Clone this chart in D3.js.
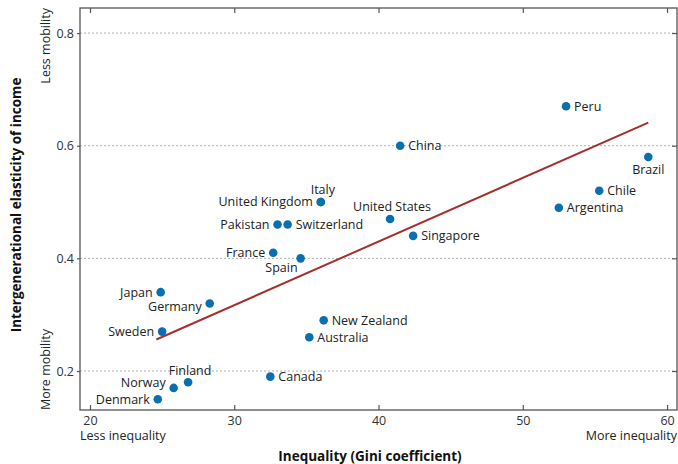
<!DOCTYPE html>
<html>
<head>
<meta charset="utf-8">
<script src="https://cdn.jsdelivr.net/npm/d3@7/dist/d3.min.js"></script>
<style>
  html, body { margin: 0; padding: 0; background: #fff; }
  svg text { font-family: "Open Sans", "Noto Sans", sans-serif; }
</style>
</head>
<body>
<svg id="chart" width="678" height="464"></svg>
<script>
// Countries with Gini coefficient and intergenerational earnings elasticity
const countries = ["Peru", "China", "Brazil", "Chile", "Argentina", "Italy", "United Kingdom",
  "United States", "Pakistan", "Switzerland", "Singapore", "France", "Spain", "Japan",
  "Germany", "Sweden", "New Zealand", "Australia", "Canada", "Finland", "Norway", "Denmark"];
const gini = [53.0, 41.5, 58.7, 55.3, 52.5, 36.0, 36.0,
  40.8, 33.0, 33.7, 42.4, 32.7, 34.6, 24.9,
  28.3, 25.0, 36.2, 35.2, 32.5, 26.8, 25.8, 24.7];
const elasticity = [0.67, 0.60, 0.58, 0.52, 0.49, 0.50, 0.50,
  0.47, 0.46, 0.46, 0.44, 0.41, 0.40, 0.34,
  0.32, 0.27, 0.29, 0.26, 0.19, 0.18, 0.17, 0.15];
// label placement per country
const labelSide = ["r", "r", "b", "r", "r", "a", "l",
  "a", "l", "r", "r", "l", "bl", "l",
  "gl", "l", "r", "r", "r", "a", "nl", "l"];

// Fitted trend line endpoints (Gini, elasticity)
const trendGini = [24.6, 58.7];
const trendElasticity = [0.256, 0.641];

const xTicks = [20, 30, 40, 50, 60];
const yTicks = [0.2, 0.4, 0.6, 0.8];

const svg = d3.select("#chart");
const L = 80, R = 677, T = 8, B = 410;

const x = d3.scaleLinear().domain([19.307, 60.69]).range([L, R]);
const y = d3.scaleLinear().domain([0.1308, 0.8445]).range([B, T]);

// dotted gridlines
svg.append("g").selectAll("line").data(yTicks).join("line")
  .attr("x1", L).attr("x2", R)
  .attr("y1", d => y(d)).attr("y2", d => y(d))
  .attr("stroke", "#b0b0b0").attr("stroke-width", 1)
  .attr("stroke-dasharray", "2,2");

const axisColor = "#555";
const styleAxis = g => {
  g.select(".domain").remove();
  g.selectAll(".tick line").attr("stroke", axisColor).attr("stroke-width", 1.2);
  g.selectAll(".tick text").attr("fill", "#333").attr("font-size", 12.5);
};

// bottom axis (inward ticks)
svg.append("g").attr("transform", `translate(0,${B})`)
  .call(d3.axisBottom(x).tickValues(xTicks).tickSize(-5).tickPadding(6).tickFormat(d3.format("d")))
  .call(styleAxis);
// top ticks
svg.append("g").attr("transform", `translate(0,${T})`)
  .call(d3.axisTop(x).tickValues(xTicks).tickSize(-5).tickFormat(""))
  .call(styleAxis);
// left axis (outward ticks)
svg.append("g").attr("transform", `translate(${L},0)`)
  .call(d3.axisLeft(y).tickValues(yTicks).tickSize(3).tickPadding(3).tickFormat(d3.format(".1f")))
  .call(styleAxis);
// right ticks
svg.append("g").attr("transform", `translate(${R},0)`)
  .call(d3.axisRight(y).tickValues(yTicks).tickSize(-5).tickFormat(""))
  .call(styleAxis);

// frame
svg.append("rect").attr("x", L).attr("y", T).attr("width", R - L).attr("height", B - T)
  .attr("fill", "none").attr("stroke", axisColor).attr("stroke-width", 1.3);

// trend line
svg.append("line")
  .attr("x1", x(trendGini[0])).attr("y1", y(trendElasticity[0]))
  .attr("x2", x(trendGini[1])).attr("y2", y(trendElasticity[1]))
  .attr("stroke", "#a3302c").attr("stroke-width", 2);

const data = countries.map((c, i) => ({ name: c, g: gini[i], e: elasticity[i], side: labelSide[i] }));

// points
svg.append("g").selectAll("circle").data(data).join("circle")
  .attr("cx", d => x(d.g)).attr("cy", d => y(d.e)).attr("r", 4.3)
  .attr("fill", "#0a6fae");

// labels
const place = {
  r:  { dx: 8,  dy: 0,   anchor: "start" },
  l:  { dx: -8, dy: 0,   anchor: "end" },
  a:  { dx: 2,  dy: -12, anchor: "middle" },
  b:  { dx: 0,  dy: 13,  anchor: "middle" },
  bl: { dx: -3, dy: 9,   anchor: "end" },
  gl: { dx: -8, dy: 3,   anchor: "end" },
  nl: { dx: -8, dy: -5,  anchor: "end" }
};
svg.append("g").selectAll("text").data(data).join("text")
  .attr("x", d => x(d.g) + place[d.side].dx)
  .attr("y", d => y(d.e) + place[d.side].dy)
  .attr("dy", "0.35em")
  .attr("text-anchor", d => place[d.side].anchor)
  .attr("font-size", 12.5).attr("fill", "#222")
  .text(d => d.name);

// axis end annotations
svg.append("text").attr("x", L).attr("y", 436).attr("dy", "0.35em")
  .attr("font-size", 12.5).attr("fill", "#222").text("Less inequality");
svg.append("text").attr("x", R).attr("y", 436).attr("dy", "0.35em").attr("text-anchor", "end")
  .attr("font-size", 12.5).attr("fill", "#222").text("More inequality");
svg.append("text").attr("transform", `translate(46,${T}) rotate(-90)`).attr("dy", "0.35em")
  .attr("text-anchor", "end").attr("font-size", 12.5).attr("fill", "#222").text("Less mobility");
svg.append("text").attr("transform", `translate(46,${B}) rotate(-90)`).attr("dy", "0.35em")
  .attr("text-anchor", "start").attr("font-size", 12.5).attr("fill", "#222").text("More mobility");

// axis titles
svg.append("text").attr("x", 370).attr("y", 456.5).attr("dy", "0.35em").attr("text-anchor", "middle")
  .attr("font-size", 13.5).attr("font-weight", "bold").attr("fill", "#111")
  .text("Inequality (Gini coefficient)");
svg.append("text").attr("transform", `translate(16,205) rotate(-90)`).attr("dy", "0.35em")
  .attr("text-anchor", "middle").attr("font-size", 13.5).attr("font-weight", "bold").attr("fill", "#111")
  .text("Intergenerational elasticity of income");
</script>
</body>
</html>
